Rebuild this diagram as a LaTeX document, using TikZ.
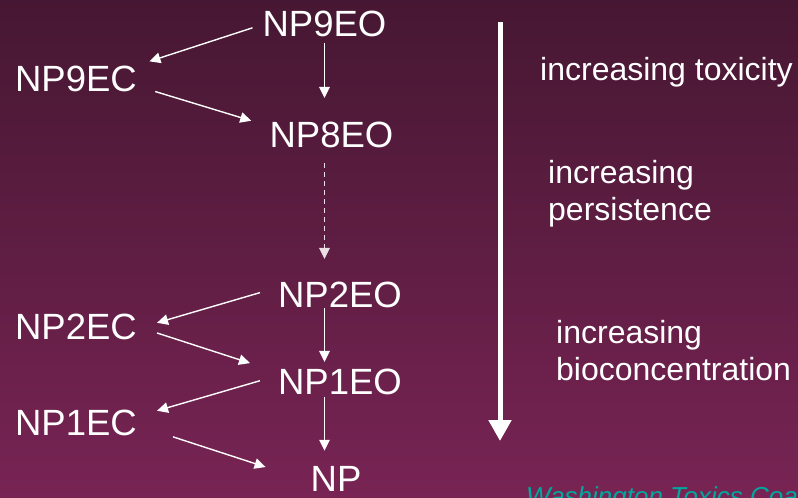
\documentclass[tikz,border=0pt]{standalone}
\usepackage{fontspec}
\setmainfont{Liberation Sans}
\usetikzlibrary{arrows.meta,calc}
\definecolor{plumtop}{RGB}{70,23,50}
\definecolor{plumbot}{RGB}{120,36,84}
\definecolor{wtcteal}{RGB}{0,168,158}
\tikzset{>={Triangle[length=11pt,width=10.5pt]}}

\begin{document}
\begin{tikzpicture}[x=1pt,y=-1pt,
    chem/.style={text=white, inner sep=0pt, font=\fontsize{36.5}{40}\selectfont},
    note/.style={text=white, inner sep=0pt, anchor=north west, align=left, font=\fontsize{32}{37}\selectfont},
    flow/.style={->, white, line width=1.4pt}]
    \shade[top color=plumtop, bottom color=plumbot] (0,0) rectangle (798,498);
    \useasboundingbox (0,0) rectangle (798,498);
    \node[chem] (NP9EO) at (324.5,23.5) {NP9EO};
    \node[chem] (NP9EC) at (76,78.5) {NP9EC};
    \node[chem] (NP8EO) at (331.5,135) {NP8EO};
    \node[chem] (NP2EO) at (340,295) {NP2EO};
    \node[chem] (NP2EC) at (76,326.5) {NP2EC};
    \node[chem] (NP1EO) at (340,382) {NP1EO};
    \node[chem] (NP1EC) at (76,423) {NP1EC};
    \node[chem] (NP) at (336,478.5) {NP};
    \draw[flow, shorten <=10.5pt, shorten >=13pt] (NP9EO.181) -- (NP9EC.north east);
    \draw[flow, shorten <=19pt, shorten >=19pt] (NP9EC.-7) -- (NP8EO.172);
    \draw[flow, shorten <=18.7pt, shorten >=20.8pt] (NP2EO.173) -- (NP2EC.-2);
    \draw[flow, shorten <=21pt, shorten >=29.4pt] (NP2EC.east) -- (NP1EO.171);
    \draw[flow, shorten <=18.7pt, shorten >=20.8pt] (NP1EO.174) -- (NP1EC.6);
    \draw[flow, shorten <=37.8pt, shorten >=47.2pt] (NP1EC.-2) -- (NP.187);
    \draw[flow, shorten <=6pt, shorten >=24pt] (NP9EO.south) -- (NP9EO.south |- NP8EO.north);
    \draw[flow, white!85!plumbot, dash pattern=on 5pt off 4pt, shorten <=15pt, shorten >=23pt] (NP9EO.south |- NP8EO.south) -- (NP9EO.south |- NP2EO.north);
    \draw[flow, shorten >=7pt] (NP9EO.south |- NP2EO.south) -- (NP9EO.south |- NP1EO.north);
    \draw[flow, shorten <=2pt, shorten >=15pt] (NP9EO.south |- NP1EO.south) -- (NP9EO.south |- NP.north);
    \coordinate (trendtop) at (500,22);
    \coordinate (trendend) at (500,441);
    \draw[white, line width=5pt, -{Triangle[length=21pt,width=22pt]}] (trendtop) -- (trendend);
    \node[note] (tox) at (540,57) {increasing toxicity};
    \node[note] (pers) at (548,160) {increasing\\persistence};
    \node[note] (bioc) at (556,320) {increasing\\bioconcentration};
    \begin{scope}
    \clip (0,0) rectangle (798,498);
    \node[anchor=north west, inner sep=0pt, text=wtcteal, font=\itshape\fontsize{26}{30}\selectfont] (wtc) at (526,486) {Washington Toxics Coalition};
    \end{scope}
\end{tikzpicture}
\end{document}
